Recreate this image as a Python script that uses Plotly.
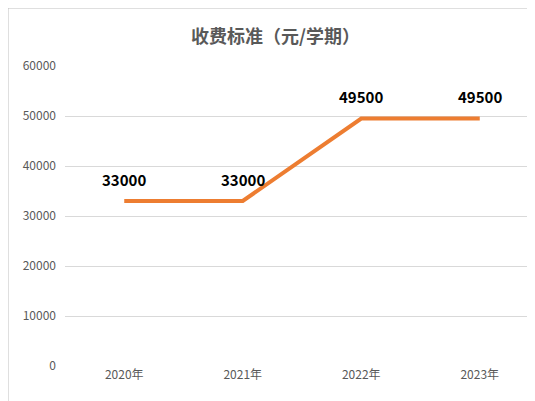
import plotly.graph_objects as go

years = ['2020年', '2021年', '2022年', '2023年']
fees = [33000, 33000, 49500, 49500]

fig = go.Figure()
fig.add_trace(go.Scatter(
    x=years, y=fees,
    mode='lines',
    line=dict(color='#ED7D31', width=4),
))

for yr, v in zip(years, fees):
    fig.add_annotation(x=yr, y=v, text=f'<b>{v}</b>', showarrow=False,
                       yshift=22, font=dict(family='Noto Sans CJK SC', size=15, color='black'))

fig.update_layout(
    width=535, height=401,
    plot_bgcolor='white', paper_bgcolor='white',
    margin=dict(l=57, r=4, t=58, b=43),
    showlegend=False,
    title=dict(text='<b>收费标准（元/学期）</b>', x=0.5, xanchor='center', y=0.945,
               font=dict(family='Noto Sans CJK SC', size=18, color='#595959')),
    font=dict(family='Noto Sans CJK SC', size=12, color='#595959'),
    xaxis=dict(type='category', range=[-0.5, 3.5], showgrid=False, showline=False, ticks=''),
    yaxis=dict(range=[0, 60000], dtick=10000, tickformat='d', gridcolor='#d9d9d9',
               zeroline=False, showline=False, ticks='', ticklabelstandoff=8),
)
# border around whole figure
fig.add_shape(type='rect', xref='paper', yref='paper',
              x0=-57/474, y0=-43/300, x1=1+4/474, y1=1+58/300,
              line=dict(color='#bfbfbf', width=1))

fig.write_html('out.html')
